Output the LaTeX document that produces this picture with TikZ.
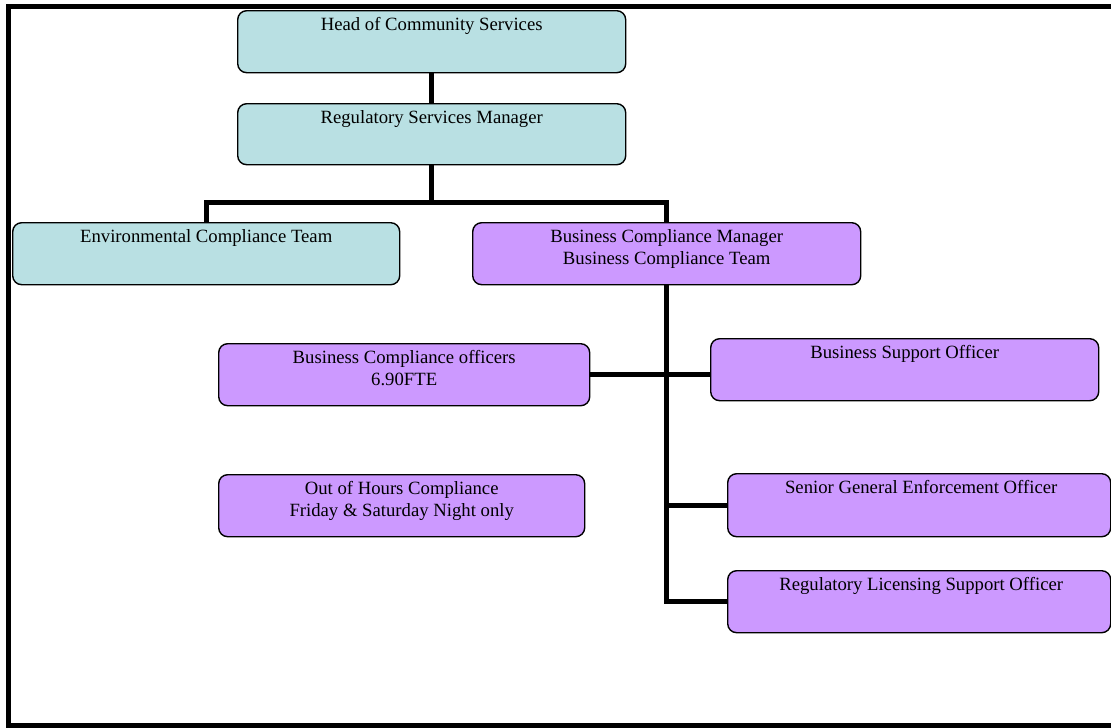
\documentclass[tikz,border=0pt]{standalone}
\usepackage{fontspec}
\setmainfont{Liberation Serif}
\definecolor{tealbox}{HTML}{B9E0E3}
\definecolor{purplebox}{HTML}{CC99FF}
\begin{document}
\begin{tikzpicture}[x=1pt,y=-1pt,
  box/.style={draw=black, line width=1.4pt, rounded corners=9pt, anchor=north west, inner sep=0pt},
  bluebox/.style={box, fill=tealbox},
  purpbox/.style={box, fill=purplebox},
  lbl/.style={anchor=north, yshift=-7.5pt, inner sep=0pt, align=center, font=\fontsize{18.7}{22}\selectfont},
  conn/.style={draw=black, line width=5pt}
]
\useasboundingbox (0,0) rectangle (1111,728);
\draw[line width=5pt] (1120,6) -- (8,6) -- (8,725) -- (1120,725);

\node[bluebox, minimum width=388pt, minimum height=62pt,
  label={[lbl]north:Head of Community Services}] (head) at (237,10) {};
\node[bluebox, minimum width=388pt, minimum height=61pt,
  label={[lbl]north:Regulatory Services Manager}] (rsm) at (237,103) {};
\node[bluebox, minimum width=387pt, minimum height=62pt,
  label={[lbl]north:Environmental Compliance Team}] (ect) at (12,222) {};
\node[purpbox, minimum width=388pt, minimum height=62pt,
  label={[lbl]north:Business Compliance Manager\\Business Compliance Team}] (bcm) at (472,222) {};
\node[purpbox, minimum width=371pt, minimum height=62pt,
  label={[lbl]north:Business Compliance officers\\6.90FTE}] (bco) at (218,343) {};
\node[purpbox, minimum width=388pt, minimum height=62pt,
  label={[lbl]north:Business Support Officer}] (bso) at (710,338) {};
\node[purpbox, minimum width=366pt, minimum height=62pt,
  label={[lbl]north:Out of Hours Compliance\\Friday \& Saturday Night only}] (ooh) at (218,474) {};
\node[purpbox, minimum width=383pt, minimum height=63pt,
  label={[lbl,xshift=2pt]north:Senior General Enforcement Officer}] (sgeo) at (727,473) {};
\node[purpbox, minimum width=383pt, minimum height=62pt,
  label={[lbl,xshift=2pt]north:Regulatory Licensing Support Officer}] (rlso) at (727,570) {};

\coordinate (j1) at (rsm.south |- 0,202);
\draw[conn] (head.south) -- (rsm.north);
\draw[conn] (ect.north) |- (j1) -| (bcm.north);
\draw[conn] (rsm.south) -- (j1);
\draw[conn] (bcm.south) |- (rlso.west);
\draw[conn] (bcm.south |- sgeo.west) -- (sgeo.west);
\draw[conn] (bco.east) -- (bco.east -| bso.west);
\end{tikzpicture}
\end{document}
